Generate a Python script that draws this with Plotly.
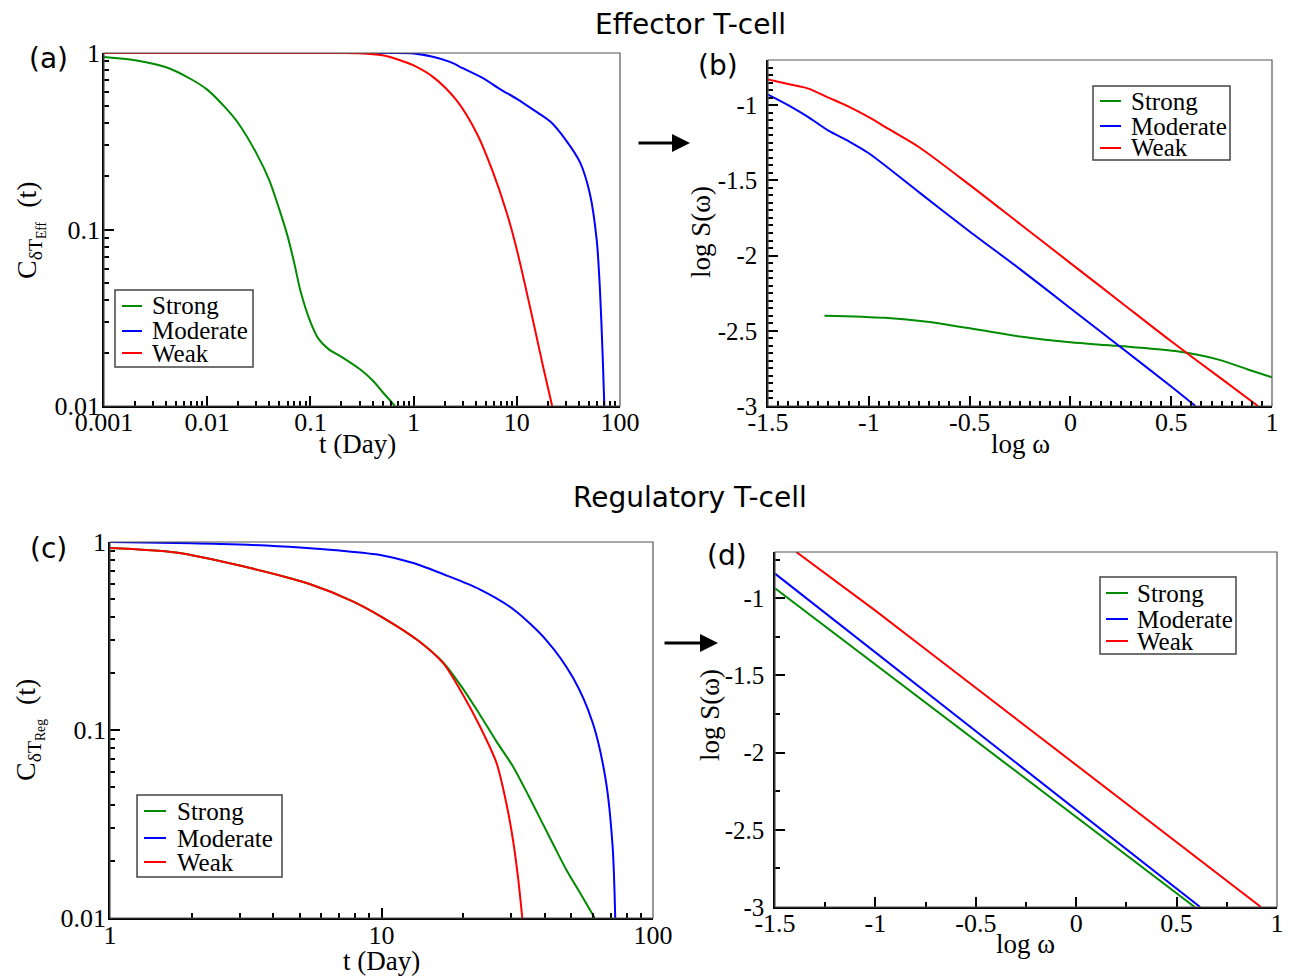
import plotly.graph_objects as go

W, H = 1291, 977
PAGE_OFFSET = 8  # default page body margin of the browser

# ---------------- data ----------------
series_names = ["Strong", "Moderate", "Weak"]
series_colors = ["#008b00", "#0000ff", "#ff0000"]

# (a) Effector T-cell autocorrelation
a_strong_t = [0.001, 0.002, 0.004, 0.007, 0.01, 0.015, 0.02, 0.03, 0.04, 0.05, 0.06, 0.07, 0.08, 0.1, 0.12, 0.15, 0.2, 0.3, 0.4, 0.5, 0.66]
a_strong_c = [0.95, 0.91, 0.83, 0.71, 0.62, 0.49, 0.40, 0.27, 0.19, 0.13, 0.092, 0.064, 0.045, 0.030, 0.024, 0.021, 0.019, 0.0162, 0.014, 0.012, 0.01]
a_mod_t = [0.001, 0.01, 0.1, 0.5, 1.0, 1.5, 2.25, 3.0, 4.7, 7.0, 10, 15, 21, 30, 41, 51, 59.5, 64, 68, 70.5]
a_mod_c = [1.0, 1.0, 1.0, 1.0, 0.995, 0.955, 0.89, 0.82, 0.72, 0.62, 0.55, 0.47, 0.41, 0.32, 0.24, 0.16, 0.087, 0.045, 0.019, 0.01]
a_weak_t = [0.001, 0.01, 0.1, 0.3, 0.5, 0.74, 1.0, 1.55, 2.6, 4.1, 5.9, 8, 10, 13.4, 18, 22]
a_weak_c = [1.0, 1.0, 1.0, 0.998, 0.97, 0.91, 0.85, 0.73, 0.54, 0.35, 0.21, 0.124, 0.077, 0.0366, 0.0167, 0.01]

# (b) Effector T-cell power spectrum
b_strong_w = [-1.22, -0.92, -0.71, -0.47, -0.24, 0.0, 0.23, 0.52, 0.73, 0.88, 1.0]
b_strong_s = [-2.40, -2.414, -2.44, -2.49, -2.54, -2.577, -2.60, -2.635, -2.69, -2.757, -2.81]
b_mod_w = [-1.5, -1.4, -1.3, -1.2, -1.1, -1.0, -0.75, -0.5, -0.25, 0.0, 0.25, 0.5, 0.62]
b_mod_s = [-0.93, -1.00, -1.08, -1.17, -1.24, -1.32, -1.58, -1.84, -2.09, -2.35, -2.61, -2.87, -3.0]
b_weak_w = [-1.5, -1.4, -1.3, -1.2, -1.1, -1.0, -0.9, -0.75, -0.5, -0.25, 0.0, 0.25, 0.5, 0.75, 0.93]
b_weak_s = [-0.83, -0.86, -0.89, -0.95, -1.01, -1.08, -1.16, -1.28, -1.53, -1.79, -2.05, -2.31, -2.57, -2.82, -3.0]

# (c) Regulatory T-cell autocorrelation
c_strong_t = [1.0, 1.75, 3.06, 5.4, 7.8, 10, 13.6, 16.9, 20, 23, 26.5, 30.5, 35, 42.7, 48, 53.7, 61]
c_strong_c = [0.93, 0.88, 0.745, 0.60, 0.485, 0.40, 0.30, 0.228, 0.165, 0.121, 0.087, 0.064, 0.044, 0.025, 0.018, 0.0137, 0.01]
c_mod_t = [1.0, 2.0, 3.0, 5.0, 7.0, 10, 13, 17.3, 23, 30.5, 40.5, 50.7, 60, 67, 71, 72.6]
c_mod_c = [1.0, 0.985, 0.97, 0.935, 0.90, 0.85, 0.775, 0.665, 0.56, 0.44, 0.30, 0.19, 0.109, 0.054, 0.024, 0.01]
c_weak_t = [1.0, 1.75, 3.06, 5.4, 7.8, 10, 13.6, 16.9, 20, 23, 26.5, 28.8, 30.5, 31.9, 33]
c_weak_c = [0.93, 0.88, 0.745, 0.60, 0.485, 0.40, 0.30, 0.226, 0.153, 0.105, 0.067, 0.041, 0.026, 0.016, 0.01]

# (d) Regulatory T-cell power spectrum
d_strong_w = [-1.5, -1.0, -0.5, 0.0, 0.5, 0.59]
d_strong_s = [-0.935, -1.43, -1.92, -2.42, -2.91, -3.0]
d_mod_w = [-1.5, -1.0, -0.5, 0.0, 0.5, 0.617]
d_mod_s = [-0.84, -1.35, -1.86, -2.37, -2.88, -3.0]
d_weak_w = [-1.394, -1.3, -1.2, -1.0, -0.75, -0.5, -0.25, 0.0, 0.25, 0.5, 0.75, 0.92]
d_weak_s = [-0.70, -0.79, -0.89, -1.08, -1.33, -1.58, -1.83, -2.08, -2.33, -2.58, -2.83, -3.0]

# tick labels
log_t_ticks_a = [0.001, 0.01, 0.1, 1, 10, 100]
log_t_labels_a = ["0.001", "0.01", "0.1", "1", "10", "100"]
log_t_ticks_c = [1, 10, 100]
log_t_labels_c = ["1", "10", "100"]
log_c_ticks = [0.01, 0.1, 1]
log_c_labels = ["0.01", "0.1", "1"]
w_ticks = [-1.5, -1.0, -0.5, 0.0, 0.5, 1.0]
w_labels = ["-1.5", "-1", "-0.5", "0", "0.5", "1"]
s_ticks = [-3.0, -2.5, -2.0, -1.5, -1.0]
s_labels = ["-3", "-2.5", "-2", "-1.5", "-1"]

# ---------------- helpers ----------------
def px(x):
    return (x - PAGE_OFFSET) / W

def py(y):
    return 1 - (y - PAGE_OFFSET) / H

SERIF = "Liberation Serif"
SANS = "DejaVu Sans"

def minor_log(lo, hi):
    vals = []
    for k in range(lo, hi):
        for m in range(2, 10):
            vals.append(m * 10 ** k)
    return vals

fig = go.Figure()

panels = [
    ("x", "y", [(a_strong_t, a_strong_c), (a_mod_t, a_mod_c), (a_weak_t, a_weak_c)], "spline"),
    ("x2", "y2", [(b_strong_w, b_strong_s), (b_mod_w, b_mod_s), (b_weak_w, b_weak_s)], "spline"),
    ("x3", "y3", [(c_strong_t, c_strong_c), (c_mod_t, c_mod_c), (c_weak_t, c_weak_c)], "spline"),
    ("x4", "y4", [(d_strong_w, d_strong_s), (d_mod_w, d_mod_s), (d_weak_w, d_weak_s)], "linear"),
]

for xa, ya, data, shape in panels:
    for (xs, ys), name, col in zip(data, series_names, series_colors):
        line = dict(color=col, width=2, shape=shape)
        if shape == "spline":
            line["smoothing"] = 0.8
        fig.add_trace(go.Scatter(
            x=xs, y=ys, mode="lines", name=name, line=line,
            xaxis=xa, yaxis=ya, showlegend=False,
        ))

tickfont = dict(family=SERIF, size=26, color="black")

def axis_common(standoff=0, size=26):
    return dict(
        showline=True, linecolor="black", linewidth=1.5, mirror=False,
        ticks="inside", ticklen=10, tickwidth=1.5, tickcolor="black",
        showgrid=False, zeroline=False, tickfont=dict(family=SERIF, size=size, color="black"),
        automargin=False, ticklabelstandoff=standoff,
    )

def minor(**kw):
    d = dict(ticks="inside", ticklen=5, tickwidth=1.5, tickcolor="black", showgrid=False)
    d.update(kw)
    return d

# domains
dom = {
    "a": ([px(104), px(620)], [py(406), py(53)]),
    "b": ([px(768), px(1272)], [py(406), py(60)]),
    "c": ([px(110), px(653)], [py(918), py(542)]),
    "d": ([px(775), px(1277)], [py(907), py(552)]),
}

XS = -8
fig.update_layout(
    xaxis=dict(**axis_common(XS), type="log", domain=dom["a"][0], anchor="y", range=[-3, 2],
               tickvals=log_t_ticks_a, ticktext=log_t_labels_a, minor=minor(tickvals=minor_log(-3, 2))),
    yaxis=dict(**axis_common(-3), type="log", domain=dom["a"][1], anchor="x", range=[-2, 0],
               tickvals=log_c_ticks, ticktext=log_c_labels, minor=minor(tickvals=minor_log(-2, 0))),
    xaxis2=dict(**axis_common(XS), domain=dom["b"][0], anchor="y2", range=[-1.5, 1],
                tickvals=w_ticks, ticktext=w_labels, minor=minor(dtick=0.05, tick0=0)),
    yaxis2=dict(**axis_common(4, 25), domain=dom["b"][1], anchor="x2", range=[-3, -0.7],
                tickvals=s_ticks, ticktext=s_labels, minor=minor(dtick=0.05, tick0=0)),
    xaxis3=dict(**axis_common(-7), type="log", domain=dom["c"][0], anchor="y3", range=[0, 2],
                tickvals=log_t_ticks_c, ticktext=log_t_labels_c, minor=minor(tickvals=minor_log(0, 2))),
    yaxis3=dict(**axis_common(-3), type="log", domain=dom["c"][1], anchor="x3", range=[-2, 0],
                tickvals=log_c_ticks, ticktext=log_c_labels, minor=minor(tickvals=minor_log(-2, 0))),
    xaxis4=dict(**axis_common(XS), domain=dom["d"][0], anchor="y4", range=[-1.5, 1],
                tickvals=w_ticks, ticktext=w_labels, minor=minor(dtick=0.25, tick0=0)),
    yaxis4=dict(**axis_common(4, 25), domain=dom["d"][1], anchor="x4", range=[-3, -0.7],
                tickvals=s_ticks, ticktext=s_labels, minor=minor(dtick=0.25, tick0=0)),
)

# frames (top/right thin grey)
for xa, ya in [("x", "y"), ("x2", "y2"), ("x3", "y3"), ("x4", "y4")]:
    fig.add_shape(type="rect", xref=xa + " domain", yref=ya + " domain", x0=0, x1=1, y0=0, y1=1,
                  line=dict(color="#555", width=1.2), layer="above")

ann = []
def text(x, y, s, font, angle=0, xanchor="center", yanchor="middle"):
    ann.append(dict(x=px(x), y=py(y), xref="paper", yref="paper", text=s, showarrow=False,
                    font=font, textangle=angle, xanchor=xanchor, yanchor=yanchor))

# legends (boxes drawn in paper space, entries from series names/colors)
legfont = dict(family=SERIF, size=25, color="black")
legend_boxes = [
    # (left, top, right, bottom, sample_x0, sample_x1, text_x, row_ys)
    (115, 290, 253, 367, 122, 142, 150, [306, 331, 353]),
    (1093, 86, 1230, 160, 1100, 1121, 1129, [101, 126, 148]),
    (137, 795, 282, 877, 144, 166, 175, [811, 838, 862]),
    (1100, 577, 1236, 654, 1106, 1128, 1135, [593, 619, 641]),
]
for (l, t, r, b, sx0, sx1, tx, rows) in legend_boxes:
    fig.add_shape(type="rect", xref="paper", yref="paper", x0=px(l), x1=px(r), y0=py(b), y1=py(t),
                  line=dict(color="#444", width=1.5), fillcolor="white", layer="above")
    for name, col, ry in zip(series_names, series_colors, rows):
        fig.add_shape(type="line", xref="paper", yref="paper", x0=px(sx0), x1=px(sx1), y0=py(ry), y1=py(ry),
                      line=dict(color=col, width=2), layer="above")
        text(tx, ry, name, legfont, xanchor="left")

titlefont = dict(family=SANS, size=28, color="black")
labfont = dict(family=SANS, size=28, color="black")
axfont = dict(family=SERIF, size=27, color="black")

text(690, 24, "Effector T-cell", titlefont)
text(690, 498, "Regulatory T-cell", titlefont)
text(48, 58, "(a)", labfont)
text(718, 65, "(b)", labfont)
text(48, 548, "(c)", labfont)
text(727, 555, "(d)", labfont)

text(357, 444, "t (Day)", axfont)
text(1020, 444, "log ω", axfont)
text(381, 961, "t (Day)", axfont)
text(1025, 944, "log ω", axfont)

text(30, 230, "C<sub>δT<sub>Eff</sub></sub>  (t)", dict(family=SERIF, size=28, color="black"), angle=-90)
text(29, 730, "C<sub>δT<sub>Reg</sub></sub>  (t)", dict(family=SERIF, size=28, color="black"), angle=-90)
text(701, 232, "log S(ω)", axfont, angle=-90)
text(710, 715, "log S(ω)", axfont, angle=-90)

# arrows
for (x0, x1, y) in [(637, 690, 143), (663, 718, 643)]:
    ann.append(dict(x=px(x1), y=py(y), xref="paper", yref="paper", ax=-(x1 - x0), ay=0,
                    axref="pixel", ayref="pixel", showarrow=True, arrowhead=2, arrowsize=1.2,
                    arrowwidth=3, arrowcolor="black", text=""))

fig.update_layout(
    template="none",
    annotations=ann,
    width=W, height=H,
    margin=dict(l=0, r=0, t=0, b=0, autoexpand=False),
    paper_bgcolor="white", plot_bgcolor="white",
    showlegend=False,
    font=dict(family=SERIF, color="black"),
)

fig.write_html("out.html")
